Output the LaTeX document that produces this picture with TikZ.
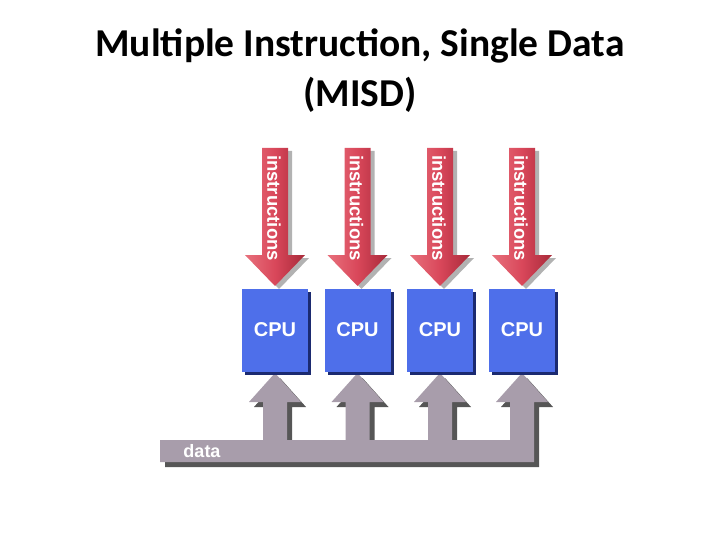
\documentclass[tikz,border=0pt]{standalone}
\usepackage{fontspec}
\setmainfont{Carlito}
\newfontfamily\arialfont{Liberation Sans}
\usetikzlibrary{shadows}
\definecolor{instrL}{HTML}{E8707C}
\definecolor{instrM}{HTML}{D9475A}
\definecolor{instrD}{HTML}{A82A3A}
\definecolor{cpuBlue}{HTML}{4E6FEA}
\definecolor{cpuShadow}{HTML}{1B2A70}
\definecolor{dataGray}{HTML}{A89DAB}
\definecolor{dataShadow}{HTML}{383838}
\begin{document}
\begin{tikzpicture}[x=1pt,y=-1pt,
  titletext/.style={font=\bfseries\fontsize{39.5}{46}\selectfont, text=black, inner sep=0pt, anchor=base},
  cpubox/.style={fill=cpuBlue, minimum width=66pt, minimum height=83pt, inner sep=0pt,
     text=white, font=\arialfont\bfseries\fontsize{20}{23}\selectfont,
     drop shadow={shadow xshift=3pt, shadow yshift=-3pt, fill=cpuShadow, opacity=1}},
  instrtext/.style={text=white, font=\arialfont\bfseries\fontsize{18.5}{21}\selectfont, inner sep=0pt, rotate=-90},
  datatext/.style={text=white, font=\arialfont\bfseries\fontsize{18}{21}\selectfont, inner sep=0pt},
  instrfill/.style={left color=instrL, right color=instrD, middle color=instrM},
  softshadow/.style={fill=black, opacity=0.3}
]
\useasboundingbox (0,0) rectangle (720,540);

\node[titletext] (t1) at (360,57) {Multiple Instruction, Single Data};
\node[titletext] (t2) at (360,107) {(MISD)};

% data bus with shadow
\def\datapath{(160,462) -- (534,462) -- (534,402) -- (548,402) -- (522,373) -- (496,402) -- (510,402) -- (510,440)
  -- (452,440) -- (452,402) -- (466,402) -- (440,373) -- (414,402) -- (428,402) -- (428,440)
  -- (369.5,440) -- (369.5,402) -- (383.5,402) -- (357.5,373) -- (331.5,402) -- (345.5,402) -- (345.5,440)
  -- (287,440) -- (287,402) -- (301,402) -- (275,373) -- (249,402) -- (263,402) -- (263,440)
  -- (160,440) -- cycle}
\fill[dataShadow, opacity=0.85, shift={(5,5)}] \datapath;
\fill[dataGray] \datapath;
\node[datatext] (dlabel) at (202,451) {data};

\foreach \i/\cx in {1/275,2/357.5,3/440,4/522}{
  \fill[softshadow, shift={(4,3)}] (\cx-13,148) -- (\cx+13,148) -- (\cx+13,255) -- (\cx+30,255)
     -- (\cx,286) -- (\cx-30,255) -- (\cx-13,255) -- cycle;
  \shade[instrfill] (\cx-13,148) -- (\cx+13,148) -- (\cx+13,255) -- (\cx+30,255)
     -- (\cx,286) -- (\cx-30,255) -- (\cx-13,255) -- cycle;
  \node[instrtext] (ins\i) at (\cx-1,208) {instructions};
  \node[cpubox] (cpu\i) at (\cx,330) {CPU};
}
\end{tikzpicture}
\end{document}
